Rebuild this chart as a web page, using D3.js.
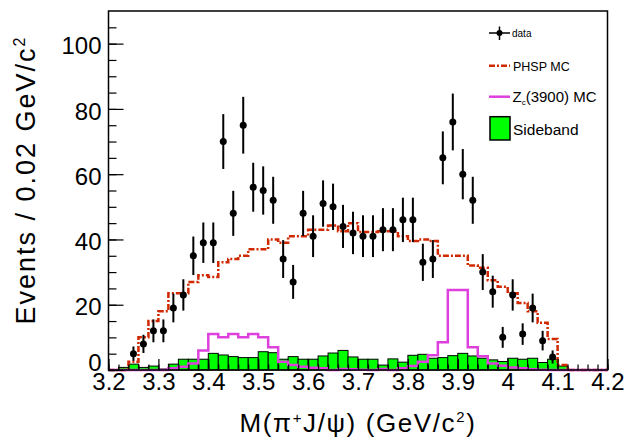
<!DOCTYPE html>
<html>
<head>
<meta charset="utf-8">
<script src="https://cdn.jsdelivr.net/npm/d3@7"></script>
<style>
  body { margin: 0; background: #fff; }
  text { font-family: "Liberation Sans", Arial, Helvetica, sans-serif; }
</style>
</head>
<body>
<div id="chart"></div>
<script>
// histogram bins: 50 bins of 0.02 GeV/c^2 from 3.2 to 4.2
const binEdges = d3.range(0, 51).map(i => +(3.2 + 0.02 * i).toFixed(2));

// PHSP MC (red dash-dot)
const phspMC = [0, 0, 2.5, 10, 15, 18, 23.5, 23.5, 27, 29,
                28.5, 33, 34, 35, 37, 37, 40, 39, 41, 41,
                43, 43, 44.3, 42.5, 45, 42.3, 42.3, 42.5, 42.5, 41,
                39.5, 40, 39.5, 35, 35, 35, 32, 31.3, 27.5, 25.5,
                23.5, 20.5, 18, 14.5, 9.5, 1.5, 0, 0, 0, 0];

// Zc(3900) MC (magenta)
const zcMC = [0, 0, 0, 0, 0, 0, 0.5, 1, 2, 6,
              11, 10, 11, 10, 11, 10, 7, 2.5, 1.5, 1,
              0.7, 0.5, 0, 0.3, 0.2, 0.1, 0, 0.3, 0, 0.5,
              1.2, 2.5, 4.5, 8.5, 24.5, 24.5, 7, 4.2, 2, 1.3,
              0.8, 0.5, 0.2, 0.1, 0, 0, 0, 0, 0, 0];

// sideband (green filled)
const sideband = [0, 0.8, 1.8, 0.8, 1.2, 0.3, 1.8, 3.3, 3.3, 3.3,
                  5.1, 4.6, 4.1, 3.8, 3.8, 5.6, 5.3, 3.3, 4.1, 3.3,
                  3.3, 4.3, 5.2, 6.0, 4.0, 3.3, 3.3, 1.5, 3.4, 2.4,
                  4.5, 4.8, 3.6, 3.8, 4.4, 5.1, 4.3, 3.6, 3.1, 2.6,
                  3.6, 3.3, 3.6, 2.3, 3.3, 1.2, 0, 0, 0, 0];

// data points
const dataMass = [3.25, 3.27, 3.29, 3.31, 3.33, 3.35, 3.37, 3.39, 3.41, 3.43,
                  3.45, 3.47, 3.49, 3.51, 3.53, 3.55, 3.57, 3.59, 3.61, 3.63,
                  3.65, 3.67, 3.69, 3.71, 3.73, 3.75, 3.77, 3.79, 3.81, 3.83,
                  3.85, 3.87, 3.89, 3.91, 3.93, 3.95, 3.97, 3.99, 4.01, 4.03,
                  4.05, 4.07, 4.09];
const dataCounts = [5, 8, 12, 12, 19, 23, 35, 39, 39, 70,
                    48, 75, 56, 55, 52, 34, 27, 48, 41, 51,
                    50, 44, 42, 41, 41, 43, 43, 46, 46, 33,
                    34, 65, 76, 60, 52, 30, 24, 10, 23, 11,
                    19, 9, 4];
const dataErrors = [2.2, 2.8, 3.5, 3.5, 4.4, 4.8, 5.9, 6.2, 6.2, 8.4,
                    6.9, 8.7, 7.5, 7.4, 7.2, 5.8, 5.2, 6.9, 6.4, 7.1,
                    7.1, 6.6, 6.5, 6.4, 6.4, 6.6, 6.6, 6.8, 6.8, 5.7,
                    5.8, 8.1, 8.7, 7.7, 7.2, 5.5, 4.9, 3.2, 4.8, 3.3,
                    4.4, 3.0, 2.0];

const xTicks = [3.2, 3.3, 3.4, 3.5, 3.6, 3.7, 3.8, 3.9, 4.0, 4.1, 4.2];
const yTicks = [0, 20, 40, 60, 80, 100];
const legendLabels = ["data", "PHSP MC", "Zc(3900) MC", "Sideband"];

const width = 627, height = 437;
const margin = {top: 11, right: 19.5, bottom: 67, left: 108.5};

const red = "#d02800", magenta = "#dd40dd", green = "#00ff00";

const svg = d3.select("#chart")
  .append("svg")
  .attr("width", width)
  .attr("height", height)
  .style("background", "#fff");

const x = d3.scaleLinear()
  .domain([3.2, 4.2])
  .range([margin.left, width - margin.right]);

const y = d3.scaleLinear()
  .domain([0, 110])
  .range([height - margin.bottom, margin.top]);

// sideband bars
svg.append("g")
  .selectAll("rect")
  .data(sideband.map((v, i) => ({v, i})).filter(d => d.v > 0))
  .enter()
  .append("rect")
  .attr("x", d => x(binEdges[d.i]))
  .attr("y", d => y(d.v))
  .attr("width", d => x(binEdges[d.i + 1]) - x(binEdges[d.i]))
  .attr("height", d => y(0) - y(d.v))
  .attr("fill", green)
  .attr("stroke", "#000")
  .attr("stroke-width", 1);

// step outline for the MC histograms
function stepPoints(values) {
  const pts = values.map((v, i) => [binEdges[i], v]);
  pts.push([binEdges[values.length], values[values.length - 1]]);
  return pts;
}
const stepLine = d3.line()
  .x(d => x(d[0]))
  .y(d => y(d[1]))
  .curve(d3.curveStepAfter);

svg.append("path")
  .attr("d", stepLine(stepPoints(phspMC)))
  .attr("fill", "none")
  .attr("stroke", red)
  .attr("stroke-width", 2.5)
  .attr("stroke-dasharray", "6,2,2,2");

svg.append("path")
  .attr("d", stepLine(stepPoints(zcMC)))
  .attr("fill", "none")
  .attr("stroke", magenta)
  .attr("stroke-width", 2.5);

// data with error bars
const pts = dataMass.map((m, i) => ({m, n: dataCounts[i], e: dataErrors[i]}));
const dataG = svg.append("g");
dataG.selectAll("line")
  .data(pts)
  .enter()
  .append("line")
  .attr("x1", d => x(d.m))
  .attr("x2", d => x(d.m))
  .attr("y1", d => y(d.n - d.e))
  .attr("y2", d => y(d.n + d.e))
  .attr("stroke", "#000")
  .attr("stroke-width", 2);
dataG.selectAll("circle")
  .data(pts)
  .enter()
  .append("circle")
  .attr("cx", d => x(d.m))
  .attr("cy", d => y(d.n))
  .attr("r", 3.5)
  .attr("fill", "#000");

// axes (ticks point inward like ROOT)
const xAxis = svg.append("g")
  .attr("transform", `translate(0,${y(0)})`)
  .call(d3.axisBottom(x).tickValues(xTicks).tickSizeInner(-11).tickSizeOuter(0)
    .tickPadding(3).tickFormat(d => +d.toFixed(1)));
xAxis.select(".domain").remove();
xAxis.selectAll("text").style("font-size", "24px").attr("fill", "#000");
xAxis.selectAll("line").attr("stroke-width", 1.2);

const xMinor = svg.append("g")
  .attr("transform", `translate(0,${y(0)})`)
  .call(d3.axisBottom(x).tickValues(binEdges).tickSizeInner(-5.5).tickSizeOuter(0).tickFormat(""));
xMinor.select(".domain").remove();
xMinor.selectAll("line").attr("stroke-width", 1.2);

const yAxis = svg.append("g")
  .attr("transform", `translate(${x(3.2)},0)`)
  .call(d3.axisLeft(y).tickValues(yTicks).tickSizeInner(-15).tickSizeOuter(0).tickPadding(7));
yAxis.select(".domain").remove();
yAxis.selectAll("text")
  .style("font-size", "24px")
  .attr("fill", "#000")
  .attr("dy", d => d === 0 ? "0.02em" : "0.42em");
yAxis.selectAll("line").attr("stroke-width", 1.2);

const yMinor = svg.append("g")
  .attr("transform", `translate(${x(3.2)},0)`)
  .call(d3.axisLeft(y).tickValues(d3.range(0, 110, 5)).tickSizeInner(-8).tickSizeOuter(0).tickFormat(""));
yMinor.select(".domain").remove();
yMinor.selectAll("line").attr("stroke-width", 1.2);

// frame
svg.append("rect")
  .attr("x", x(3.2))
  .attr("y", y(110))
  .attr("width", x(4.2) - x(3.2))
  .attr("height", y(0) - y(110))
  .attr("fill", "none")
  .attr("stroke", "#000")
  .attr("stroke-width", 1.5);

// axis titles
const xTitle = svg.append("text")
  .attr("x", (x(3.2) + x(4.2)) / 2)
  .attr("y", 432)
  .attr("text-anchor", "middle")
  .style("font-size", "26px")
  .style("letter-spacing", "1.6px");
xTitle.append("tspan").text("M(\u03c0");
xTitle.append("tspan").attr("dy", -9).style("font-size", "15px").text("+");
xTitle.append("tspan").attr("dy", 9).text("J/\u03c8) (GeV/c");
xTitle.append("tspan").attr("dy", -10).style("font-size", "15px").text("2");
xTitle.append("tspan").attr("dy", 10).text(")");

const yTitle = svg.append("text")
  .attr("transform", "rotate(-90)")
  .attr("x", -180)
  .attr("y", 35)
  .attr("text-anchor", "middle")
  .style("font-size", "27px")
  .style("letter-spacing", "2px");
yTitle.append("tspan").text("Events / 0.02 GeV/c");
yTitle.append("tspan").attr("dy", -10).style("font-size", "16px").text("2");

// legend
const legend = svg.append("g");
legend.append("line").attr("x1", 489).attr("x2", 510).attr("y1", 33).attr("y2", 33)
  .attr("stroke", "#000").attr("stroke-width", 1.5);
legend.append("line").attr("x1", 499.5).attr("x2", 499.5).attr("y1", 26.5).attr("y2", 40)
  .attr("stroke", "#000").attr("stroke-width", 1.5);
legend.append("circle").attr("cx", 499.5).attr("cy", 33).attr("r", 3).attr("fill", "#000");
legend.append("text").attr("x", 512).attr("y", 36.5).style("font-size", "10px").text(legendLabels[0]);

legend.append("line").attr("x1", 489).attr("x2", 510).attr("y1", 65.7).attr("y2", 65.7)
  .attr("stroke", red).attr("stroke-width", 2.5).attr("stroke-dasharray", "6,2,2,2");
legend.append("text").attr("x", 513).attr("y", 70.5).style("font-size", "12.5px").text(legendLabels[1]);

legend.append("line").attr("x1", 489).attr("x2", 510).attr("y1", 96.7).attr("y2", 96.7)
  .attr("stroke", magenta).attr("stroke-width", 2.5);
const zcText = legend.append("text").attr("x", 512.5).attr("y", 101.5).style("font-size", "15px");
zcText.append("tspan").text(legendLabels[2].slice(0, 1));
zcText.append("tspan").attr("dy", 3).style("font-size", "8px").text(legendLabels[2].slice(1, 2));
zcText.append("tspan").attr("dy", -3).text(legendLabels[2].slice(2));

legend.append("rect").attr("x", 490).attr("y", 116.7).attr("width", 20).attr("height", 23.3)
  .attr("fill", green).attr("stroke", "#000").attr("stroke-width", 1.5);
legend.append("text").attr("x", 513).attr("y", 134.5).style("font-size", "15.5px").text(legendLabels[3]);
</script>
</body>
</html>
